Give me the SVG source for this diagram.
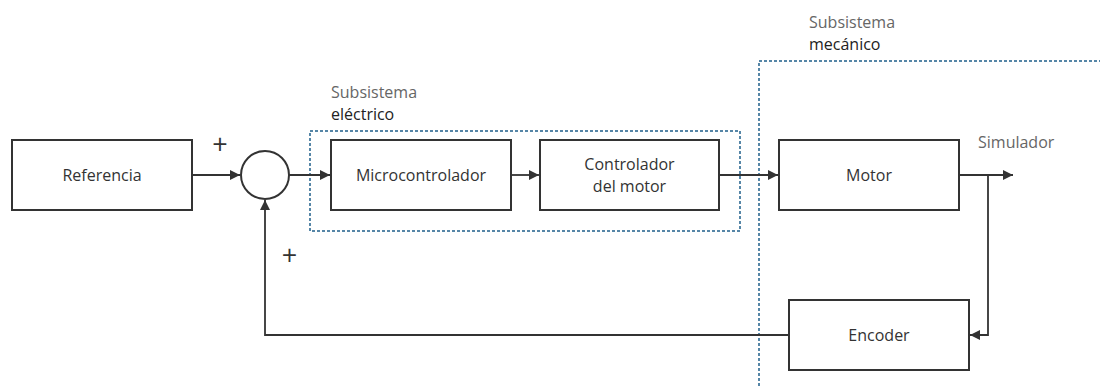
<svg xmlns="http://www.w3.org/2000/svg" width="1100" height="386" viewBox="0 0 1100 386">
  <style>
    .blk { fill: #ffffff; stroke: #333333; stroke-width: 2; }
    .lbl { font-family: "Open Sans", "Noto Sans", sans-serif; font-size: 16px; fill: #333333; text-anchor: middle; }
    .cap { font-family: "Open Sans", "Noto Sans", sans-serif; font-size: 16px; fill: #666666; }
    .cap2 { font-family: "Open Sans", "Noto Sans", sans-serif; font-size: 16px; fill: #222222; }
    .sign { font-family: "Open Sans", "Noto Sans", sans-serif; font-size: 27px; fill: #333333; text-anchor: middle; }
    .zone { fill: none; stroke: #1f5f8b; stroke-width: 1.5; stroke-dasharray: 3 2; }
    .wire { fill: none; stroke: #333333; stroke-width: 1.8; }
  </style>
  <defs>
    <marker id="arrow" viewBox="0 0 10 10" refX="10" refY="5" markerWidth="10" markerHeight="10" markerUnits="userSpaceOnUse" orient="auto">
      <path d="M0,0 L10,5 L0,10 z" fill="#333333"/>
    </marker>
  </defs>

  <rect width="1100" height="386" fill="#ffffff"/>

  <!-- subsystem regions -->
  <g id="zona-electrica">
    <rect class="zone" x="310" y="131" width="430" height="100"/>
    <text class="cap" x="331" y="98">Subsistema</text>
    <text class="cap2" x="331" y="120">eléctrico</text>
  </g>
  <g id="zona-mecanica">
    <path class="zone" d="M1102,61 H759 V390"/>
    <text class="cap" x="809" y="28">Subsistema</text>
    <text class="cap2" x="809" y="50">mecánico</text>
  </g>

  <!-- connectors -->
  <g id="conectores">
    <path class="wire" d="M192,175 H240" marker-end="url(#arrow)"/>
    <path class="wire" d="M289,175 H330" marker-end="url(#arrow)"/>
    <path class="wire" d="M511,175 H539" marker-end="url(#arrow)"/>
    <path class="wire" d="M719,175 H778" marker-end="url(#arrow)"/>
    <path class="wire" d="M959,175 H1013" marker-end="url(#arrow)"/>
    <path class="wire" d="M988,175 V335 H970" marker-end="url(#arrow)"/>
    <path class="wire" d="M789,335 H265 V200" marker-end="url(#arrow)"/>
  </g>

  <!-- blocks -->
  <g id="referencia">
    <rect class="blk" x="12" y="140" width="180" height="70"/>
    <text class="lbl" x="102" y="181">Referencia</text>
  </g>
  <g id="sumador">
    <circle class="blk" cx="265" cy="175" r="24"/>
    <text class="sign" x="220" y="154">+</text>
    <text class="sign" x="289.5" y="265">+</text>
  </g>
  <g id="microcontrolador">
    <rect class="blk" x="331" y="140" width="180" height="70"/>
    <text class="lbl" x="421" y="181">Microcontrolador</text>
  </g>
  <g id="controlador-motor">
    <rect class="blk" x="540" y="140" width="179" height="70"/>
    <text class="lbl" x="629.5" y="170">Controlador</text>
    <text class="lbl" x="629.5" y="192">del motor</text>
  </g>
  <g id="motor">
    <rect class="blk" x="779" y="140" width="180" height="70"/>
    <text class="lbl" x="869" y="181">Motor</text>
  </g>
  <g id="simulador">
    <text class="cap" x="978" y="148">Simulador</text>
  </g>
  <g id="encoder">
    <rect class="blk" x="789" y="300" width="180" height="70"/>
    <text class="lbl" x="879" y="341">Encoder</text>
  </g>
</svg>
